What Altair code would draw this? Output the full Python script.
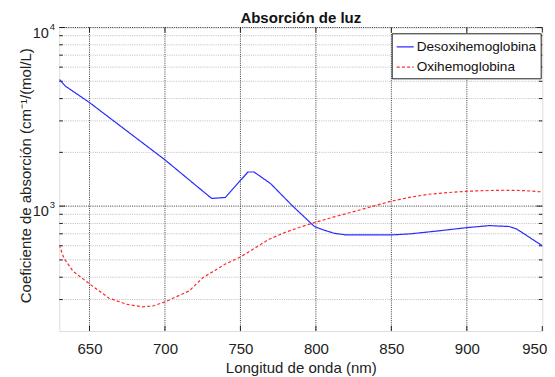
import altair as alt
import pandas as pd

# ---- data ----
series = ["Desoxihemoglobina", "Oxihemoglobina"]

wl_deoxy = [630, 634, 650, 700, 723, 731, 740, 755, 759, 770, 784, 799, 805, 812,
            820, 850, 862, 880, 900, 915, 928, 933, 950]
mu_deoxy = [5120, 4700, 3800, 1816, 1254, 1104, 1118, 1553, 1553, 1337, 1013, 769, 736, 705,
            690, 690, 699, 725, 758, 778, 769, 745, 600]

wl_oxy = [630, 633, 639, 650, 663, 675, 685, 692, 700, 716, 725, 740, 750, 760, 769, 780,
          790, 799, 812, 825, 838, 850, 862, 875, 888, 900, 912, 925, 938, 950]
mu_oxy = [607, 512, 433, 367, 305, 282, 273, 276, 291, 335, 397, 474, 519, 585, 653, 715,
          765, 809, 870, 931, 1000, 1066, 1120, 1166, 1192, 1211, 1222, 1227, 1222, 1202]

x_ticks = [650, 700, 750, 800, 850, 900, 950]
x_grid = [650, 700, 750, 800, 850, 900]
y_major = [1000, 10000]
y_exps = ["3", "4"]
y_minor = [300, 400, 500, 600, 700, 800, 900,
           2000, 3000, 4000, 5000, 6000, 7000, 8000, 9000]
title_text = ["Absorción de luz"]

FONT = "Liberation Sans"
W, H = 483, 303.5

df_lines = pd.concat([
    pd.DataFrame({"x": wl_deoxy, "y": mu_deoxy, "s": series[0]}),
    pd.DataFrame({"x": wl_oxy, "y": mu_oxy, "s": series[1]}),
], ignore_index=True)
df_xg = pd.DataFrame({"x": x_grid})
df_xt = pd.DataFrame({"x": x_ticks})
df_ymaj = pd.DataFrame({"y": y_major, "e": y_exps})
df_ymin = pd.DataFrame({"y": y_minor})
df_title = pd.DataFrame({"t": title_text})

xs = alt.Scale(domain=[630, 950], nice=False, zero=False)
ys = alt.Scale(type="log", domain=[200, 10000], nice=False)

X0 = alt.X("x:Q", scale=xs, axis=None)
Y0 = alt.Y("y:Q", scale=ys, axis=None)

minor_grid = alt.Chart(df_ymin).mark_rule(color="#bdbdbd", strokeDash=[1, 1.2], strokeWidth=1).encode(y=Y0)
major_ygrid = alt.Chart(df_ymaj).mark_rule(color="#3a3a3a", strokeDash=[1, 1.2], strokeWidth=1).encode(y=Y0)
major_xgrid = alt.Chart(df_xg).mark_rule(color="#3a3a3a", strokeDash=[1, 1.2], strokeWidth=1).encode(x=X0)

tick_col = "#222222"
yt_l_maj = alt.Chart(df_ymaj).mark_rule(color=tick_col).encode(y=Y0, x=alt.value(0), x2=alt.value(6))
yt_l_min = alt.Chart(df_ymin).mark_rule(color=tick_col).encode(y=Y0, x=alt.value(0), x2=alt.value(3.5))
yt_r_maj = alt.Chart(df_ymaj).mark_rule(color=tick_col).encode(y=Y0, x=alt.value(W - 6), x2=alt.value(W))
yt_r_min = alt.Chart(df_ymin).mark_rule(color=tick_col).encode(y=Y0, x=alt.value(W - 3.5), x2=alt.value(W))
xt_b = alt.Chart(df_xt).mark_rule(color=tick_col).encode(x=X0, y=alt.value(H - 5), y2=alt.value(H))
xt_t = alt.Chart(df_xt).mark_rule(color=tick_col).encode(x=X0, y=alt.value(0), y2=alt.value(5))

ylab_base = alt.Chart(df_ymaj).mark_text(font=FONT, fontSize=14.5, align="right", baseline="alphabetic",
                                         dy=10, color="#222222").encode(
    y=Y0, x=alt.value(-10.5), text=alt.value("10"))
ylab_exp = alt.Chart(df_ymaj).mark_text(font=FONT, fontSize=9.5, align="left", baseline="alphabetic",
                                        dy=2, color="#222222").encode(
    y=Y0, x=alt.value(-9.5), text="e:N")

title_mark = alt.Chart(df_title).mark_text(font=FONT, fontSize=15, fontWeight="bold", align="center",
                                           baseline="alphabetic", color="#111111").encode(
    x=alt.value(W / 2), y=alt.value(-4.3), text="t:N")

leg = dict(title=None, orient="none", legendX=332.4, legendY=5.8,
           symbolType="stroke", symbolSize=289, symbolStrokeWidth=1.2,
           labelFont=FONT, labelFontSize=13.6, labelColor="#111111",
           labelOffset=2, padding=4, rowPadding=3.4,
           strokeColor="#222222", fillColor="white")

lines = alt.Chart(df_lines).mark_line(strokeWidth=1.2, clip=True).encode(
    x=alt.X("x:Q", scale=xs,
            axis=alt.Axis(values=x_ticks, ticks=False, domain=False, grid=False,
                          labelFont=FONT, labelFontSize=15, labelColor="#222222",
                          labelPadding=10, labelFlush=True, labelFlushOffset=4.5,
                          labelOverlap=False,
                          title="Longitud de onda (nm)", titleFont=FONT, titleFontSize=15,
                          titleFontWeight="normal", titleColor="#222222",
                          titleY=41.5, titleBaseline="alphabetic")),
    y=alt.Y("y:Q", scale=ys,
            axis=alt.Axis(labels=False, ticks=False, domain=False, grid=False,
                          title="Coeficiente de absorción (cm⁻¹/(mol/L)", titleFont=FONT,
                          titleFontSize=15, titleFontWeight="normal", titleColor="#222222",
                          titleAngle=270, titleX=-34, titleY=H / 2 - 4,
                          titleAlign="center", titleBaseline="middle")),
    color=alt.Color("s:N", scale=alt.Scale(domain=series, range=["#2b2bff", "#ff2a2a"]),
                    legend=alt.Legend(**leg)),
    strokeDash=alt.StrokeDash("s:N", scale=alt.Scale(domain=series, range=[[1, 0], [3, 2.2]]),
                              legend=alt.Legend(**leg)),
)

chart = alt.layer(
    minor_grid, major_ygrid, major_xgrid,
    yt_l_maj, yt_l_min, yt_r_maj, yt_r_min, xt_b, xt_t,
    ylab_base, ylab_exp, title_mark,
    lines,
).resolve_axis(
    x="independent", y="independent"
).properties(
    width=W, height=H,
    autosize=alt.AutoSizeParams(type="none"),
    padding={"left": 51.3, "top": 19.5, "right": 4.7, "bottom": 45},
).configure_view(
    stroke="#222222", strokeWidth=1.2
).configure(background="white")

chart.save("out.html", embed_options={"renderer": "svg", "actions": False})
